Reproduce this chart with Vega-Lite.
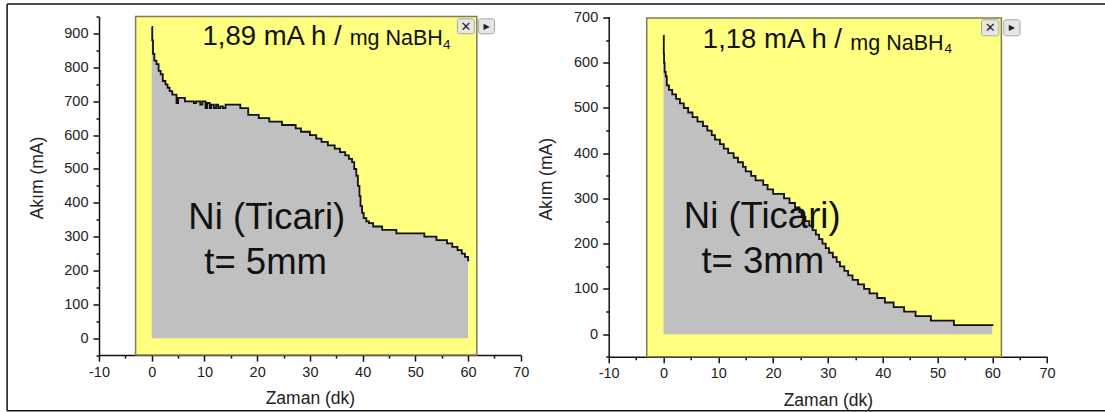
{"$schema":"https://vega.github.io/schema/vega-lite/v6.json","background":"white","padding":{"left":6,"top":2.5,"right":0,"bottom":1},"bounds":"flush","spacing":87.7,
"datasets":{
"c1":[{"t":0,"v":920},{"t":0.1,"v":880},{"t":0.25,"v":840},{"t":0.5,"v":820},{"t":0.9,"v":810},{"t":1.3,"v":790},{"t":1.7,"v":780},{"t":2.1,"v":760},{"t":2.6,"v":750},{"t":3,"v":740},{"t":3.4,"v":730},{"t":3.9,"v":720},{"t":4.7,"v":695},{"t":5,"v":710},{"t":6.3,"v":700},{"t":8,"v":695},{"t":8.4,"v":700},{"t":9.2,"v":690},{"t":9.6,"v":700},{"t":10.2,"v":680},{"t":10.5,"v":695},{"t":11,"v":680},{"t":11.3,"v":690},{"t":11.8,"v":680},{"t":12.2,"v":690},{"t":12.6,"v":680},{"t":13,"v":685},{"t":13.5,"v":680},{"t":14,"v":690},{"t":16.8,"v":680},{"t":18.3,"v":660},{"t":20.3,"v":650},{"t":22.3,"v":640},{"t":24.7,"v":630},{"t":27.3,"v":620},{"t":28.3,"v":610},{"t":30,"v":600},{"t":31.2,"v":590},{"t":32.2,"v":580},{"t":33.4,"v":570},{"t":34.7,"v":560},{"t":35.7,"v":550},{"t":36.7,"v":540},{"t":37.4,"v":530},{"t":38,"v":520},{"t":38.4,"v":500},{"t":38.8,"v":480},{"t":39.1,"v":450},{"t":39.4,"v":420},{"t":39.6,"v":390},{"t":39.9,"v":370},{"t":40.2,"v":355},{"t":40.7,"v":345},{"t":41.2,"v":340},{"t":42,"v":330},{"t":43.7,"v":320},{"t":46.4,"v":310},{"t":51.7,"v":300},{"t":54,"v":290},{"t":56,"v":280},{"t":57,"v":270},{"t":58,"v":260},{"t":58.8,"v":250},{"t":59.4,"v":240},{"t":60,"v":230},{"t":60.2,"v":230}],
"c2":[{"t":0,"v":660},{"t":0.05,"v":620},{"t":0.1,"v":600},{"t":0.2,"v":580},{"t":0.4,"v":570},{"t":0.6,"v":550},{"t":1,"v":540},{"t":1.6,"v":530},{"t":2.3,"v":520},{"t":3,"v":510},{"t":3.7,"v":500},{"t":4.5,"v":490},{"t":5.3,"v":480},{"t":6.2,"v":470},{"t":7.2,"v":460},{"t":8,"v":450},{"t":8.8,"v":440},{"t":9.4,"v":430},{"t":10.3,"v":420},{"t":11,"v":410},{"t":11.8,"v":400},{"t":12.8,"v":390},{"t":13.6,"v":380},{"t":14.5,"v":370},{"t":15,"v":360},{"t":16,"v":350},{"t":16.8,"v":340},{"t":18.2,"v":330},{"t":19,"v":320},{"t":20,"v":310},{"t":22,"v":300},{"t":23,"v":290},{"t":24,"v":280},{"t":24.8,"v":270},{"t":25.2,"v":260},{"t":25.9,"v":250},{"t":26.6,"v":240},{"t":27.2,"v":230},{"t":27.8,"v":220},{"t":28.4,"v":210},{"t":29,"v":200},{"t":29.6,"v":190},{"t":30.2,"v":180},{"t":30.9,"v":170},{"t":31.6,"v":160},{"t":32.2,"v":150},{"t":33,"v":140},{"t":33.7,"v":130},{"t":34.5,"v":120},{"t":35.5,"v":110},{"t":36.6,"v":100},{"t":37.6,"v":90},{"t":39,"v":80},{"t":40.4,"v":70},{"t":42,"v":60},{"t":43.9,"v":50},{"t":46,"v":40},{"t":48.8,"v":30},{"t":53,"v":20},{"t":60,"v":20},{"t":60.2,"v":20}]
},
"hconcat":[
{"width":421.8,"height":338.6,
"encoding":{
"x":{"field":"t","type":"quantitative","scale":{"domain":[-10,70],"nice":false,"zero":false},"axis":{"title":"Zaman (dk)","values":[-10,-5,0,5,10,15,20,25,30,35,40,45,50,55,60,65,70],"labelExpr":"datum.value%10?'':replace(datum.label,'−','-')","tickSize":{"condition":{"test":"datum.value%10!=0","value":3},"value":6},"titleY":43.7,"titleBaseline":"middle","labelPadding":4,"labelOverlap":false,"labelFlush":false,"grid":false,"domainColor":"#111","domainWidth":1.5,"tickColor":"#111","tickWidth":1.5,"labelFont":"Liberation Sans","labelFontSize":14.5,"labelColor":"#222","titleFont":"Liberation Sans","titleFontSize":17.5,"titleFontWeight":"normal","titleColor":"#222"}},
"y":{"field":"v","type":"quantitative","scale":{"domain":[-50,950.6],"nice":false,"zero":false},"axis":{"title":"Akım (mA)","values":[-50,0,50,100,150,200,250,300,350,400,450,500,550,600,650,700,750,800,850,900,950],"labelExpr":"datum.value%100?'':datum.label","tickSize":{"condition":{"test":"datum.value%100!=0","value":3},"value":6},"titleX":-61.5,"titleY":161,"titleBaseline":"middle","labelPadding":5,"labelOverlap":false,"labelFlush":false,"grid":false,"domainColor":"#111","domainWidth":1.5,"tickColor":"#111","tickWidth":1.5,"labelFont":"Liberation Sans","labelFontSize":14.5,"labelColor":"#222","titleFont":"Liberation Sans","titleFontSize":17.5,"titleFontWeight":"normal","titleColor":"#222"}}
},
"layer":[
{"data":{"values":[{"t":-3.06,"t2":61.66,"v":-50,"v2":950.6}]},"mark":{"type":"rect","fill":"#FFFF80","stroke":"#7d7d5a","strokeWidth":1.5},"encoding":{"x2":{"field":"t2"},"y2":{"field":"v2"}}},
{"data":{"name":"c1"},"transform":[{"filter":"datum.t<=60"}],"mark":{"type":"area","interpolate":"step-after","fill":"#C0C0C0"},"encoding":{"y2":{"datum":0}}},
{"data":{"name":"c1"},"mark":{"type":"line","interpolate":"step-after","color":"#111","strokeWidth":1.8}},
{"data":{"values":[{"t":9.63,"v":867,"s":"1,89 mA h /"}]},"mark":{"type":"text","align":"left","baseline":"alphabetic","font":"Liberation Sans","fontSize":27.5,"color":"#111"},"encoding":{"text":{"field":"s"}}},
{"data":{"values":[{"t":37.54,"v":866,"s":"mg NaBH"}]},"mark":{"type":"text","align":"left","baseline":"alphabetic","font":"Liberation Sans","fontSize":21.5,"color":"#111"},"encoding":{"text":{"field":"s"}}},
{"data":{"values":[{"t":55.24,"v":855,"s":"4"}]},"mark":{"type":"text","align":"left","baseline":"alphabetic","font":"Liberation Sans","fontSize":13.5,"color":"#111"},"encoding":{"text":{"field":"s"}}},
{"data":{"values":[{"t":6.95,"v":324,"s":"Ni (Ticari)"},{"t":9.96,"v":191,"s":"t= 5mm"}]},"mark":{"type":"text","align":"left","baseline":"alphabetic","font":"Liberation Sans","fontSize":36.5,"color":"#111"},"encoding":{"text":{"field":"s"}}},
{"data":{"values":[{"t":57.98,"t2":61.19,"v":899.5,"v2":943.8},{"t":61.99,"t2":65,"v":899.5,"v2":943.8}]},"mark":{"type":"rect","fill":"#e6e6e6","stroke":"#a8a8a8","strokeWidth":1,"cornerRadius":2},"encoding":{"x2":{"field":"t2"},"y2":{"field":"v2"}}},
{"data":{"values":[{"t":59.6,"v":921,"s":"✕"}]},"mark":{"type":"text","align":"center","baseline":"middle","font":"DejaVu Sans","fontSize":13,"fontWeight":"bold","color":"#222"},"encoding":{"text":{"field":"s"}}},
{"data":{"values":[{"t":63.5,"v":921,"s":"▶"}]},"mark":{"type":"text","align":"center","baseline":"middle","font":"DejaVu Sans","fontSize":8,"color":"#222"},"encoding":{"text":{"field":"s"}}},
{"data":{"values":[{"t":-27.43,"t2":180.8,"v":987.2,"v2":987.2},{"t":-27.43,"t2":180.8,"v":-214.6,"v2":-214.6},{"t":-27.43,"t2":-27.43,"v":-214.6,"v2":987.2}]},"mark":{"type":"rule","color":"#111","strokeWidth":1.5},"encoding":{"x2":{"field":"t2"},"y2":{"field":"v2"}}}
]},
{"width":438.4,"height":340.3,
"encoding":{
"x":{"field":"t","type":"quantitative","scale":{"domain":[-10,70],"nice":false,"zero":false},"axis":{"title":"Zaman (dk)","values":[-10,-5,0,5,10,15,20,25,30,35,40,45,50,55,60,65,70],"labelExpr":"datum.value%10?'':replace(datum.label,'−','-')","tickSize":{"condition":{"test":"datum.value%10!=0","value":3},"value":6},"titleY":44,"titleBaseline":"middle","labelPadding":4,"labelOverlap":false,"labelFlush":false,"grid":false,"domainColor":"#111","domainWidth":1.5,"tickColor":"#111","tickWidth":1.5,"labelFont":"Liberation Sans","labelFontSize":14.5,"labelColor":"#222","titleFont":"Liberation Sans","titleFontSize":17.5,"titleFontWeight":"normal","titleColor":"#222"}},
"y":{"field":"v","type":"quantitative","scale":{"domain":[-50,702.2],"nice":false,"zero":false},"axis":{"title":"Akım (mA)","values":[-50,0,50,100,150,200,250,300,350,400,450,500,550,600,650,700],"labelExpr":"datum.value%100?'':datum.label","tickSize":{"condition":{"test":"datum.value%100!=0","value":3},"value":6},"titleX":-62,"titleY":162.3,"titleBaseline":"middle","labelPadding":5,"labelOverlap":false,"labelFlush":false,"grid":false,"domainColor":"#111","domainWidth":1.5,"tickColor":"#111","tickWidth":1.5,"labelFont":"Liberation Sans","labelFontSize":14.5,"labelColor":"#222","titleFont":"Liberation Sans","titleFontSize":17.5,"titleFontWeight":"normal","titleColor":"#222"}}
},
"layer":[
{"data":{"values":[{"t":-3.06,"t2":61.66,"v":-50,"v2":698.7}]},"mark":{"type":"rect","fill":"#FFFF80","stroke":"#7d7d5a","strokeWidth":1.5},"encoding":{"x2":{"field":"t2"},"y2":{"field":"v2"}}},
{"data":{"name":"c2"},"transform":[{"filter":"datum.t<=60"}],"mark":{"type":"area","interpolate":"step-after","fill":"#C0C0C0"},"encoding":{"y2":{"datum":0}}},
{"data":{"name":"c2"},"mark":{"type":"line","interpolate":"step-after","color":"#111","strokeWidth":1.8}},
{"data":{"values":[{"t":7.18,"v":631.5,"s":"1,18 mA h /"}]},"mark":{"type":"text","align":"left","baseline":"alphabetic","font":"Liberation Sans","fontSize":27.5,"color":"#111"},"encoding":{"text":{"field":"s"}}},
{"data":{"values":[{"t":34.09,"v":628.6,"s":"mg NaBH"}]},"mark":{"type":"text","align":"left","baseline":"alphabetic","font":"Liberation Sans","fontSize":21.5,"color":"#111"},"encoding":{"text":{"field":"s"}}},
{"data":{"values":[{"t":51.3,"v":622.6,"s":"4"}]},"mark":{"type":"text","align":"left","baseline":"alphabetic","font":"Liberation Sans","fontSize":13.5,"color":"#111"},"encoding":{"text":{"field":"s"}}},
{"data":{"values":[{"t":3.7,"v":234.5,"s":"Ni (Ticari)"},{"t":6.93,"v":136.3,"s":"t= 3mm"}]},"mark":{"type":"text","align":"left","baseline":"alphabetic","font":"Liberation Sans","fontSize":36.5,"color":"#111"},"encoding":{"text":{"field":"s"}}},
{"data":{"values":[{"t":58.03,"t2":61.18,"v":659.6,"v2":694.9},{"t":62.09,"t2":65.05,"v":659.6,"v2":694.9}]},"mark":{"type":"rect","fill":"#e6e6e6","stroke":"#a8a8a8","strokeWidth":1,"cornerRadius":2},"encoding":{"x2":{"field":"t2"},"y2":{"field":"v2"}}},
{"data":{"values":[{"t":59.6,"v":677,"s":"✕"}]},"mark":{"type":"text","align":"center","baseline":"middle","font":"DejaVu Sans","fontSize":13,"fontWeight":"bold","color":"#222"},"encoding":{"text":{"field":"s"}}},
{"data":{"values":[{"t":63.55,"v":677,"s":"▶"}]},"mark":{"type":"text","align":"center","baseline":"middle","font":"DejaVu Sans","fontSize":8,"color":"#222"},"encoding":{"text":{"field":"s"}}}
]}
],
"config":{"view":{"stroke":null}}}
